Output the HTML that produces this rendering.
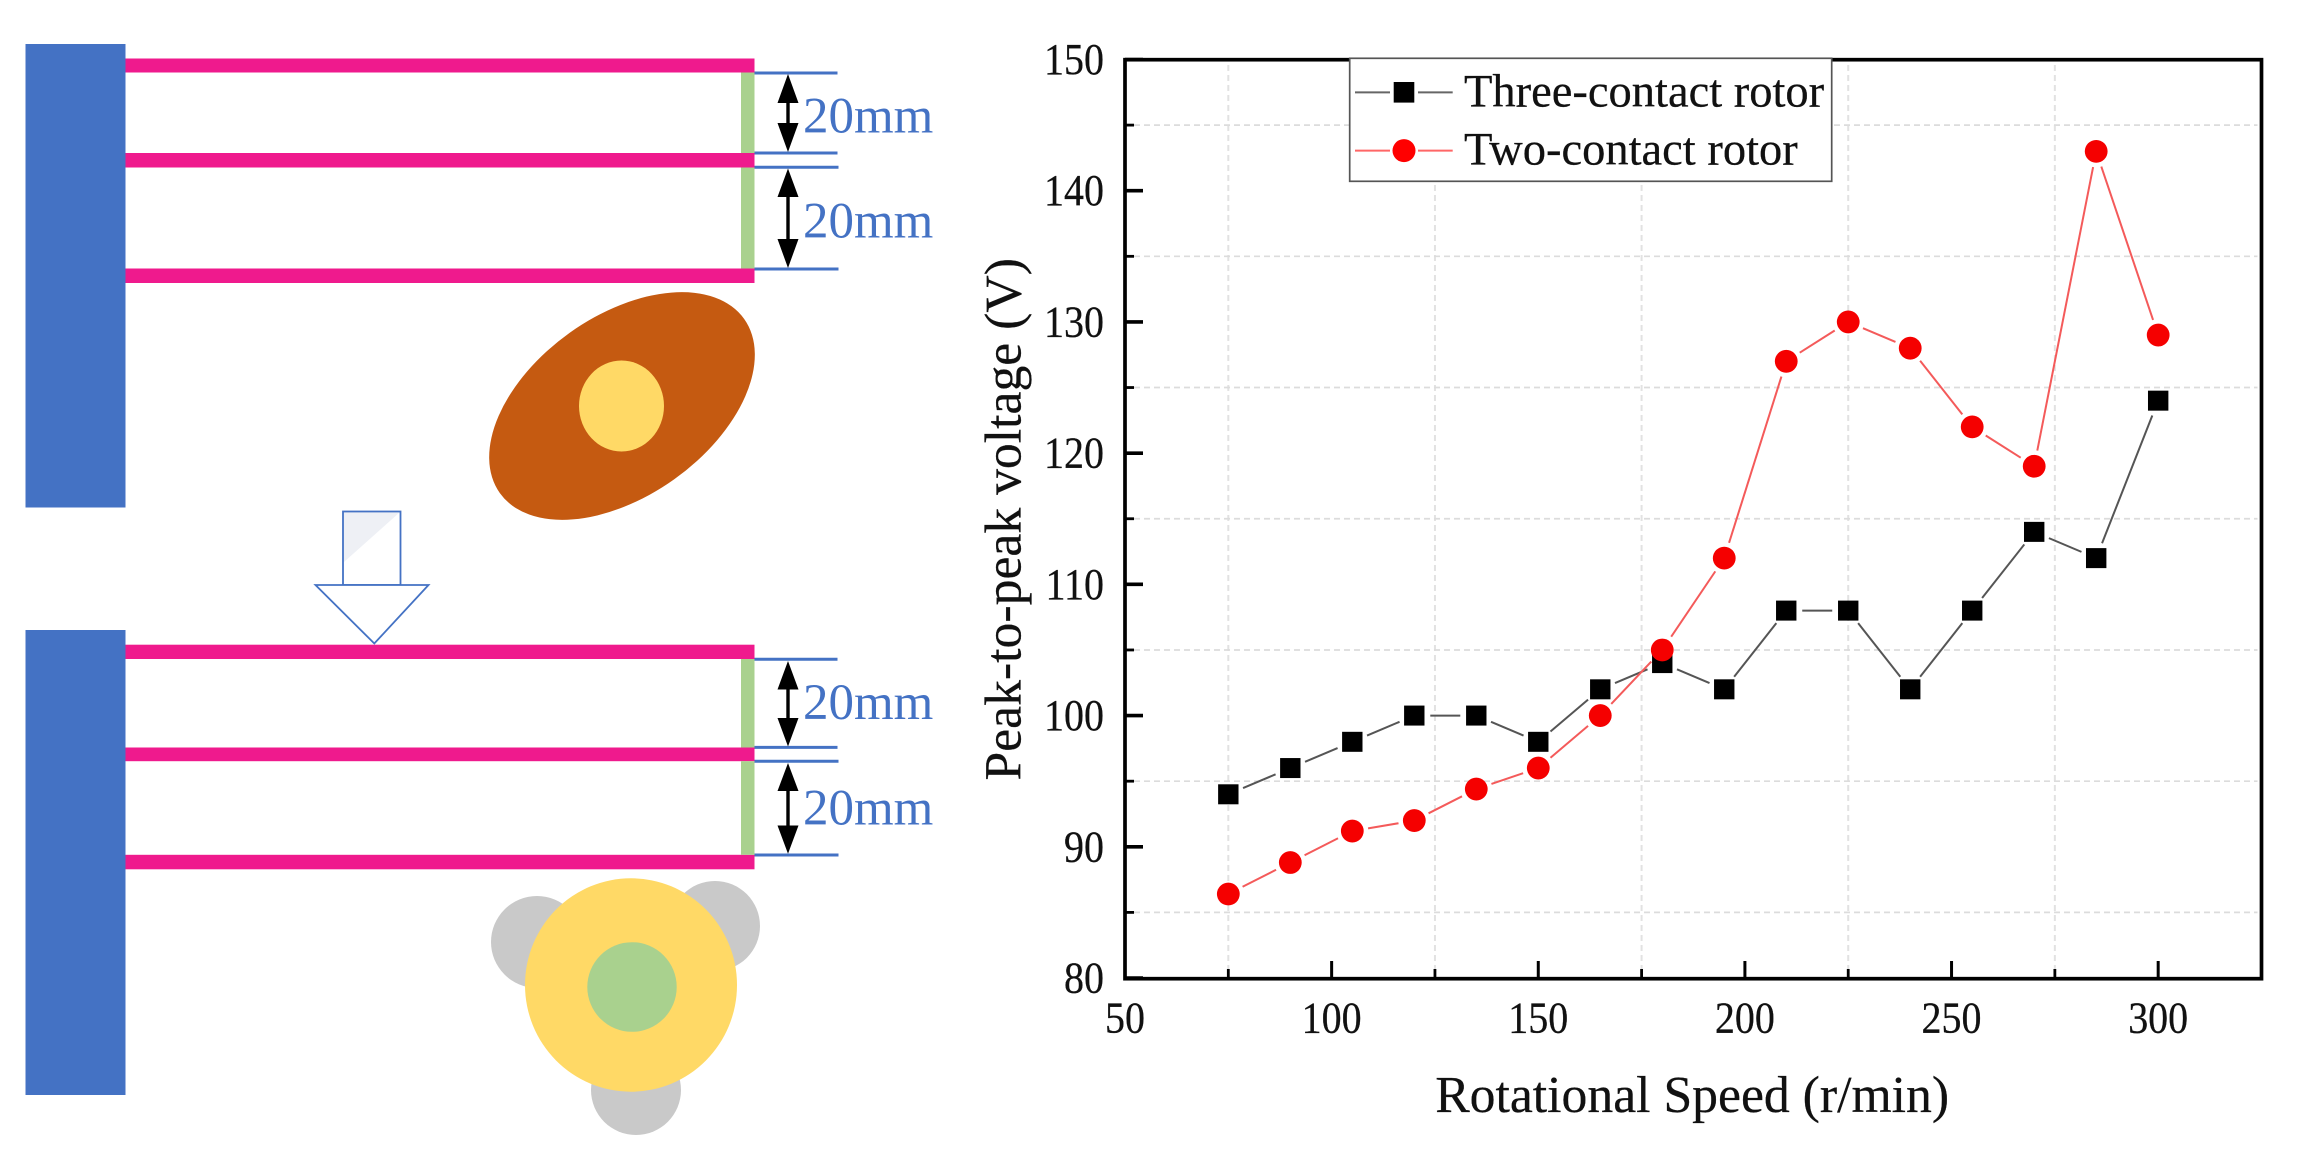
<!DOCTYPE html>
<html lang="en">
<head>
<meta charset="utf-8">
<title>Rotor diagrams and peak-to-peak voltage chart</title>
<style>
  html, body { margin: 0; padding: 0; background: #fff; }
  svg { display: block; }
  text { font-family: "Liberation Serif", "Times New Roman", serif; }
  .dim { fill: #4472c4; font-size: 51px; }
  .dimline { stroke: #4472c4; stroke-width: 3; }
  .tick-label { font-size: 40px; fill: #111; stroke: #111; stroke-width: 0.25; }
  .axis-title { font-size: 51.7px; fill: #111; stroke: #111; stroke-width: 0.25; }
  .legend-label { font-size: 46.5px; fill: #111; stroke: #111; stroke-width: 0.25; }
</style>
</head>
<body>
<svg id="figure" xmlns="http://www.w3.org/2000/svg" width="2300" height="1157" viewBox="0 0 2300 1157">
  <rect x="0" y="0" width="2300" height="1157" fill="#ffffff"/>

  <g>
    <rect x="25.5" y="44" width="100" height="463.5" fill="#4472c4"/>
    <rect x="125.5" y="58.5" width="629" height="14" fill="#ef1a8d"/>
    <rect x="125.5" y="153" width="629" height="14.5" fill="#ef1a8d"/>
    <rect x="125.5" y="268.5" width="629" height="14.5" fill="#ef1a8d"/>
    <rect x="741" y="72.5" width="13.5" height="80.5" fill="#a9d18e"/>
    <rect x="741" y="167.5" width="13.5" height="101" fill="#a9d18e"/>
    <line class="dimline" x1="754.5" y1="73" x2="837.5" y2="73"/>
    <line class="dimline" x1="754.5" y1="153" x2="837.5" y2="153"/>
    <line class="dimline" x1="754.5" y1="167.3" x2="838.5" y2="167.3"/>
    <line class="dimline" x1="754.5" y1="269" x2="838.5" y2="269"/>
    <polygon fill="#000" points="788,74 798.5,103 789.7,103 789.7,123 798.5,123 788,152 777.5,123 786.3,123 786.3,103 777.5,103"/>
    <polygon fill="#000" points="788,168.5 798.5,197 789.7,197 789.7,239 798.5,239 788,268 777.5,239 786.3,239 786.3,197 777.5,197"/>
    <text class="dim" x="803" y="132.3">20mm</text>
    <text class="dim" x="803" y="237.6">20mm</text>
    <ellipse cx="622" cy="406" rx="150" ry="90" fill="#c55a11" transform="rotate(-35.5 622 406)"/>
    <ellipse cx="621.5" cy="406" rx="42.5" ry="45.5" fill="#ffd966"/>
  </g>

  <g>
    <rect x="343" y="511.5" width="57.5" height="73.5" fill="#ffffff" stroke="#4472c4" stroke-width="1.8"/>
    <polygon points="344,512.5 399.5,512.5 344,562" fill="#eef0f5"/>
    <polygon points="315.5,585 428.5,585 374.3,643.5" fill="#ffffff" stroke="#4472c4" stroke-width="1.8"/>
  </g>

  <g>
    <rect x="25.5" y="630" width="100" height="465" fill="#4472c4"/>
    <rect x="125.5" y="644.7" width="629" height="14.3" fill="#ef1a8d"/>
    <rect x="125.5" y="747.5" width="629" height="13.7" fill="#ef1a8d"/>
    <rect x="125.5" y="854.8" width="629" height="14.5" fill="#ef1a8d"/>
    <rect x="741" y="659" width="13.5" height="88.5" fill="#a9d18e"/>
    <rect x="741" y="761.2" width="13.5" height="93.6" fill="#a9d18e"/>
    <line class="dimline" x1="754.5" y1="659.3" x2="837.5" y2="659.3"/>
    <line class="dimline" x1="754.5" y1="747.4" x2="837.5" y2="747.4"/>
    <line class="dimline" x1="754.5" y1="761.2" x2="838.5" y2="761.2"/>
    <line class="dimline" x1="754.5" y1="855" x2="838.5" y2="855"/>
    <polygon fill="#000" points="788,661 798.5,689.5 789.7,689.5 789.7,718 798.5,718 788,746.5 777.5,718 786.3,718 786.3,689.5 777.5,689.5"/>
    <polygon fill="#000" points="788,763 798.5,791 789.7,791 789.7,825.5 798.5,825.5 788,853.7 777.5,825.5 786.3,825.5 786.3,791 777.5,791"/>
    <text class="dim" x="803" y="719.2">20mm</text>
    <text class="dim" x="803" y="824.4">20mm</text>
    <circle cx="537" cy="942" r="46" fill="#c9c9c9"/>
    <circle cx="715" cy="926" r="45" fill="#c9c9c9"/>
    <circle cx="636" cy="1090" r="45" fill="#c9c9c9"/>
    <ellipse cx="631" cy="985" rx="106" ry="106.7" fill="#ffd966"/>
    <ellipse cx="632" cy="987" rx="44.7" ry="44.8" fill="#a9d18e"/>
  </g>

  <g id="chart">
    <g id="grid"></g>
    <g id="series"></g>
    <rect x="1125" y="59.7" width="1136.5" height="919" fill="none" stroke="#000" stroke-width="3.7"/>
    <g id="ticks"></g>
    <text class="axis-title" x="1435.2" y="1112">Rotational Speed (r/min)</text>
    <text class="axis-title" transform="translate(1020.5 780.5) rotate(-90)">Peak-to-peak voltage (V)</text>
    <g>
      <rect x="1349.7" y="58.3" width="482" height="123" fill="#ffffff" stroke="#555" stroke-width="1.7"/>
      <g>
        <line x1="1355" y1="92.4" x2="1390" y2="92.4" stroke="#666" stroke-width="2"/>
        <line x1="1418" y1="92.4" x2="1452.7" y2="92.4" stroke="#666" stroke-width="2"/>
        <rect x="1393.7" y="82" width="20.6" height="20.6" fill="#000"/>
        <text class="legend-label" x="1464" y="106.5">Three-contact rotor</text>
      </g>
      <g>
        <line x1="1355" y1="150.6" x2="1390" y2="150.6" stroke="#f66" stroke-width="2"/>
        <line x1="1418" y1="150.6" x2="1452.7" y2="150.6" stroke="#f66" stroke-width="2"/>
        <circle cx="1404" cy="150.6" r="11.5" fill="#f00"/>
        <text class="legend-label" x="1464" y="164.6">Two-contact rotor</text>
      </g>
    </g>
  </g>
</svg>

<script>
const speeds = [75, 90, 105, 120, 135, 150, 165, 180, 195, 210, 225, 240, 255, 270, 285, 300];
const threeContact = [94, 96, 98, 100, 100, 98, 102, 104, 102, 108, 108, 102, 108, 114, 112, 124];
const twoContact = [86.4, 88.8, 91.2, 92, 94.4, 96, 100, 105, 112, 127, 130, 128, 122, 119, 143, 129];
const xMajorTicks = [50, 100, 150, 200, 250, 300];
const xMinorTicks = [75, 125, 175, 225, 275];
const yMajorTicks = [80, 90, 100, 110, 120, 130, 140, 150];
const yMinorTicks = [85, 95, 105, 115, 125, 135, 145];

const NS = 'http://www.w3.org/2000/svg';
const plot = { left: 1125, right: 2261.5, top: 59.5, bottom: 978, xMin: 50, xMax: 325, yMin: 80, yMax: 150 };

function xScale(v) {
  return plot.left + (v - plot.xMin) / (plot.xMax - plot.xMin) * (plot.right - plot.left);
}
function yScale(v) {
  return plot.bottom - (v - plot.yMin) / (plot.yMax - plot.yMin) * (plot.bottom - plot.top);
}
function make(tag, attrs) {
  const el = document.createElementNS(NS, tag);
  for (const k in attrs) el.setAttribute(k, attrs[k]);
  return el;
}

const grid = document.getElementById('grid');
const ticks = document.getElementById('ticks');
const series = document.getElementById('series');

xMinorTicks.forEach(function (v) {
  const el = make('line', { x1: xScale(v), x2: xScale(v), y1: 65, y2: plot.bottom - 9, stroke: '#e2e2e2', 'stroke-width': 2, 'stroke-dasharray': '6 4' });
  
  
  grid.appendChild(el);
  const t = make('line', { x1: xScale(v), x2: xScale(v), y1: plot.bottom, y2: plot.bottom - 9, stroke: '#000', 'stroke-width': 2.8 });
  
  
  ticks.appendChild(t);
});

yMinorTicks.forEach(function (v) {
  const el = make('line', { x1: plot.left + 9, x2: plot.right - 4, y1: yScale(v), y2: yScale(v), stroke: '#dcdcdc', 'stroke-width': 1.7, 'stroke-dasharray': '6 4' });
  
  
  grid.appendChild(el);
  const t = make('line', { x1: plot.left, x2: plot.left + 9, y1: yScale(v), y2: yScale(v), stroke: '#000', 'stroke-width': 2.8 });
  
  
  ticks.appendChild(t);
});

xMajorTicks.forEach(function (v) {
  const t = make('line', { x1: xScale(v), x2: xScale(v), y1: plot.bottom, y2: plot.bottom - 17, stroke: '#000', 'stroke-width': 3 });
  
  
  ticks.appendChild(t);
  const label = make('text', { transform: 'translate(' + xScale(v) + ' 1032.3) scale(1 1.12)', 'text-anchor': 'middle', class: 'tick-label' });
  
  
  label.textContent = String(v);
  ticks.appendChild(label);
});

yMajorTicks.forEach(function (v) {
  const t = make('line', { x1: plot.left, x2: plot.left + 18, y1: yScale(v), y2: yScale(v), stroke: '#000', 'stroke-width': 3.6 });
  
  
  ticks.appendChild(t);
  const label = make('text', { transform: 'translate(1104 ' + (yScale(v) + 14.5) + ') scale(1 1.1)', 'text-anchor': 'end', class: 'tick-label' });
  
  
  label.textContent = String(v);
  ticks.appendChild(label);
});

function drawSegments(values, color, name) {
  const gap = 16;
  for (let i = 0; i < values.length - 1; i++) {
    const x1 = xScale(speeds[i]), y1 = yScale(values[i]);
    const x2 = xScale(speeds[i + 1]), y2 = yScale(values[i + 1]);
    const d = Math.hypot(x2 - x1, y2 - y1);
    if (d <= gap * 2) continue;
    const ux = (x2 - x1) / d, uy = (y2 - y1) / d;
    const seg = make('line', { x1: x1 + ux * gap, y1: y1 + uy * gap, x2: x2 - ux * gap, y2: y2 - uy * gap, stroke: color, 'stroke-width': 2 });
    
    
    series.appendChild(seg);
  }
}

drawSegments(threeContact, '#555555', 'three-contact-line-segment');
threeContact.forEach(function (v, i) {
  const m = make('rect', { x: xScale(speeds[i]) - 10.2, y: yScale(v) - 10, width: 20.4, height: 20, fill: '#000' });
  
  
  series.appendChild(m);
});

drawSegments(twoContact, '#f45a5a', 'two-contact-line-segment');
twoContact.forEach(function (v, i) {
  const m = make('circle', { cx: xScale(speeds[i]), cy: yScale(v), r: 11.4, fill: '#f50000' });
  
  
  series.appendChild(m);
});
</script>
</body>
</html>
